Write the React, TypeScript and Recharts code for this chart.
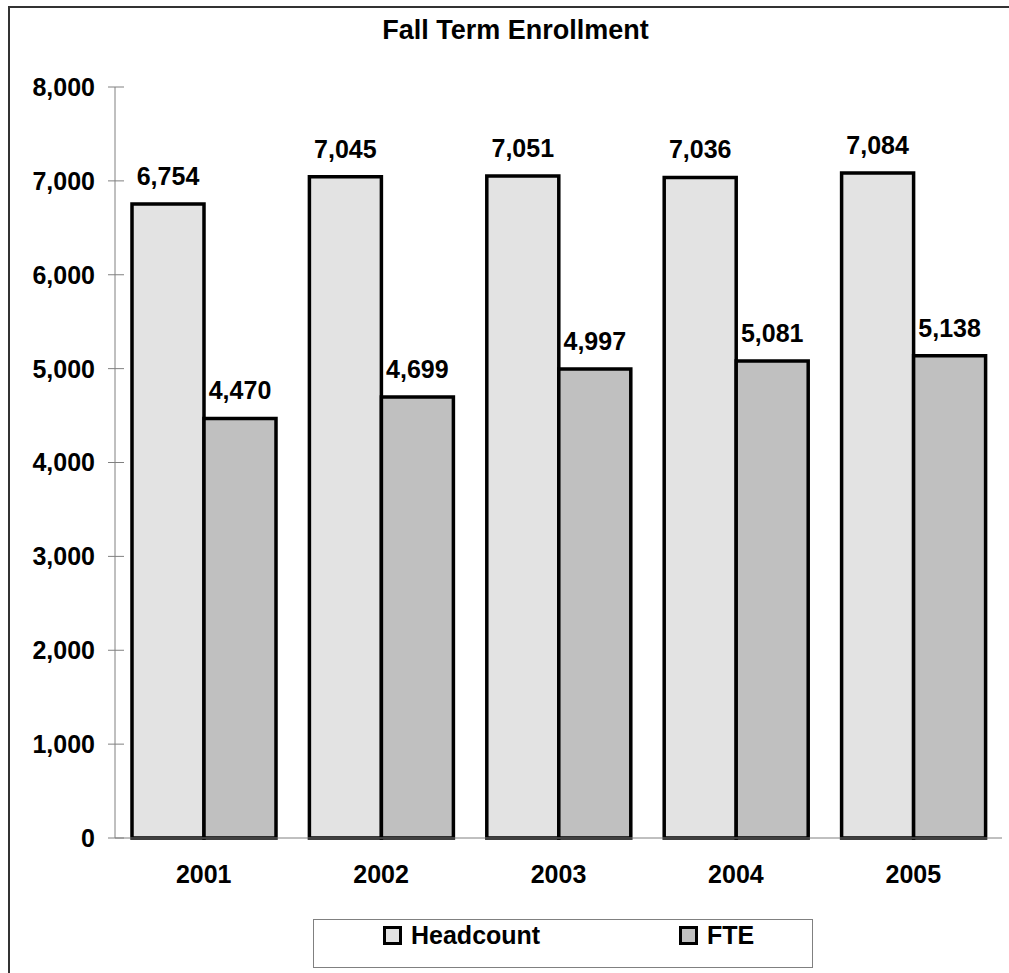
import { Bar, BarChart, LabelList, Legend, XAxis, YAxis } from "recharts"

const years = ["2001", "2002", "2003", "2004", "2005"]
const headcount = [6754, 7045, 7051, 7036, 7084]
const fte = [4470, 4699, 4997, 5081, 5138]
const yTicks = [0, 1000, 2000, 3000, 4000, 5000, 6000, 7000, 8000]
const seriesNames = ["Headcount", "FTE"]

const data = years.map((year, i) => ({
  year,
  headcount: headcount[i],
  fte: fte[i],
}))

const FONT = '"Liberation Sans", Arial, Helvetica, sans-serif'
const AXIS = "#808080"
const fmt = (v: number) => Number(v).toLocaleString("en-US")

const YTick = ({ x, y, payload }: any) => (
  <g>
    <line x1={x + 13} x2={x + 29} y1={y} y2={y} stroke={AXIS} />
    <text
      x={x}
      y={y}
      dy="0.355em"
      textAnchor="end"
      fontFamily={FONT}
      fontSize={25}
      fontWeight="bold"
      fill="#000"
    >
      {fmt(payload.value)}
    </text>
  </g>
)

const XTick = ({ x, y, payload }: any) => (
  <text
    x={x}
    y={y}
    dy={45}
    textAnchor="middle"
    fontFamily={FONT}
    fontSize={25}
    fontWeight="bold"
    fill="#000"
  >
    {payload.value}
  </text>
)

// legend item offsets inside the box
const legendLeft = [69, 365]

const LegendBox = ({ payload }: any) => {
  const items = [...(payload ?? [])].sort(
    (a: any, b: any) => seriesNames.indexOf(a.value) - seriesNames.indexOf(b.value)
  )
  return (
    <div
      style={{
        position: "relative",
        width: 500,
        height: 49,
        boxSizing: "border-box",
        border: `1px solid ${AXIS}`,
        background: "#fff",
        fontFamily: FONT,
        fontSize: 25,
        fontWeight: "bold",
        color: "#000",
      }}
    >
      {items.map((p: any, i: number) => (
        <div
          key={p.value}
          style={{
            position: "absolute",
            left: legendLeft[i],
            top: 0,
            height: 30,
            display: "flex",
            alignItems: "center",
          }}
        >
          <span
            style={{
              display: "inline-block",
              width: 13,
              height: 13,
              border: "3px solid #000",
              background: p.color,
              marginRight: 9,
            }}
          />
          <span style={{ lineHeight: "25px" }}>{p.value}</span>
        </div>
      ))}
    </div>
  )
}

export default function App() {
  return (
    <div
      style={{
        position: "absolute",
        left: 0,
        top: 0,
        width: 1009,
        height: 973,
        overflow: "hidden",
        background: "#fff",
      }}
    >
      <div
        style={{
          position: "absolute",
          left: 8,
          top: 6,
          width: 1100,
          height: 1100,
          borderLeft: "2px solid #333",
          borderTop: "2px solid #333",
        }}
      />
      <div
        style={{
          position: "absolute",
          left: 8,
          top: 17,
          width: 1015,
          textAlign: "center",
          fontFamily: FONT,
          fontSize: 27,
          lineHeight: "27px",
          fontWeight: "bold",
          color: "#000",
        }}
      >
        Fall Term Enrollment
      </div>
      <div style={{ position: "absolute", left: 0, top: 0 }}>
        <BarChart
          width={1009}
          height={973}
          data={data}
          margin={{ top: 87, right: 7, bottom: 75, left: 0 }}
          barCategoryGap={17}
          barGap={0}
        >
          <XAxis
            dataKey="year"
            height={60}
            axisLine={{ stroke: AXIS }}
            tickLine={false}
            tickSize={0}
            tickMargin={0}
            tick={<XTick />}
            interval={0}
          />
          <YAxis
            width={115}
            domain={[0, 8000]}
            ticks={yTicks}
            interval={0}
            axisLine={{ stroke: AXIS }}
            tickLine={false}
            tickSize={0}
            tickMargin={20}
            tick={<YTick />}
          />
          <Legend
            layout="horizontal"
            verticalAlign="middle"
            align="center"
            wrapperStyle={{ left: 313, top: 919, width: 500, height: 49 }}
            content={<LegendBox />}
          />
          <Bar
            dataKey="headcount"
            name="Headcount"
            fill="#e3e3e3"
            stroke="#000"
            strokeWidth={3.5}
            isAnimationActive={false}
          >
            <LabelList
              dataKey="headcount"
              position="top"
              offset={19}
              formatter={fmt}
              fill="#000"
              fontFamily={FONT}
              fontSize={25}
              fontWeight="bold"
            />
          </Bar>
          <Bar
            dataKey="fte"
            name="FTE"
            fill="#c0c0c0"
            stroke="#000"
            strokeWidth={3.5}
            isAnimationActive={false}
          >
            <LabelList
              dataKey="fte"
              position="top"
              offset={19}
              formatter={fmt}
              fill="#000"
              fontFamily={FONT}
              fontSize={25}
              fontWeight="bold"
            />
          </Bar>
        </BarChart>
      </div>
    </div>
  )
}
